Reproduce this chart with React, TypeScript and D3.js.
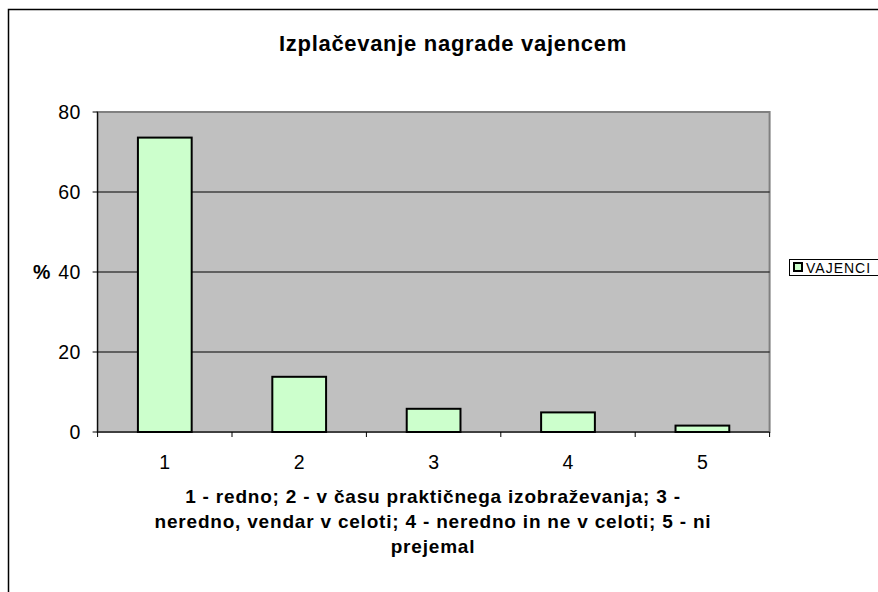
import React from "react";
import * as d3 from "d3";

const categories = ["1", "2", "3", "4", "5"];
const values = [73.6, 13.8, 5.8, 4.9, 1.6];
const yTicks = [0, 20, 40, 60, 80];
const seriesName = "VAJENCI";
const title = "Izplačevanje nagrade vajencem";
const xTitleLines = [
  "1 - redno; 2 - v času praktičnega izobraževanja; 3 -",
  "neredno, vendar v celoti; 4 - neredno in ne v celoti; 5 - ni",
  "prejemal",
];

export default function App() {
  const W = 878, H = 592;
  const left = 97.6, right = 769.6, top = 112, bottom = 432;
  const x = d3.scaleBand<string>().domain(categories).range([left, right]).paddingInner(0.6).paddingOuter(0.3);
  const xb = d3.scaleBand<string>().domain(categories).range([left, right]);
  const y = d3.scaleLinear().domain([0, 80]).range([bottom, top]);
  const font = "'Liberation Sans', Arial, sans-serif";
  return (
    <svg width={W} height={H} style={{ position: "absolute", left: 0, top: 0 }} fontFamily={font}>
      <rect x={0} y={0} width={W} height={H} fill="#fff" />
      <rect x={8.5} y={9.5} width={W + 10} height={H + 10} fill="#fff" stroke="#000" strokeWidth={1.5} />
      <text x={453} y={51} textAnchor="middle" fontSize={22} fontWeight="bold" letterSpacing={0.7}>{title}</text>
      <rect x={left} y={top} width={right - left} height={bottom - top} fill="#c0c0c0" stroke="#808080" strokeWidth={2} />
      {yTicks.map((t) => (
        <g key={t}>
          {t > 0 && t < 80 && <line x1={left} x2={right} y1={y(t)} y2={y(t)} stroke="#000" strokeWidth={1} />}
          <line x1={left - 5} x2={left} y1={y(t)} y2={y(t)} stroke="#000" />
          <text x={left - 17} y={y(t) + 7} textAnchor="end" fontSize={19.5} letterSpacing={0.3}>{t}</text>
        </g>
      ))}
      <text x={33} y={y(40) + 7} fontSize={19.5} fontWeight="bold">%</text>
      {categories.map((c, i) => (
        <rect key={c} x={x(c)!} y={y(values[i])} width={x.bandwidth()} height={bottom - y(values[i])}
          fill="#ccffcc" stroke="#000" strokeWidth={2} />
      ))}
      <line x1={left} x2={right} y1={bottom} y2={bottom} stroke="#000" strokeWidth={1} />
      <line x1={left} x2={left} y1={top} y2={bottom + 5} stroke="#000" strokeWidth={1} />
      {categories.map((c) => (
        <g key={"t" + c}>
          <line x1={xb(c)! + xb.bandwidth()} x2={xb(c)! + xb.bandwidth()} y1={bottom} y2={bottom + 5} stroke="#000" />
          <text x={xb(c)! + xb.bandwidth() / 2} y={469} textAnchor="middle" fontSize={19.5}>{c}</text>
        </g>
      ))}
      {xTitleLines.map((l, i) => (
        <text key={i} x={433} y={503 + i * 25} textAnchor="middle" fontSize={19} fontWeight="bold" letterSpacing={0.8}>{l}</text>
      ))}
      <rect x={789.5} y={259.5} width={100} height={16} fill="#fff" stroke="#000" strokeWidth={1} />
      <rect x={794} y={263} width={8} height={8} fill="#ccffcc" stroke="#000" strokeWidth={2} />
      <text x={806} y={273} fontSize={14} letterSpacing={1}>{seriesName}</text>
    </svg>
  );
}
